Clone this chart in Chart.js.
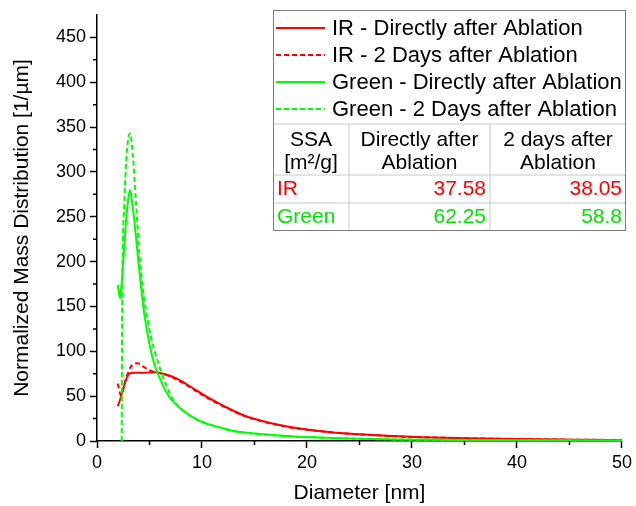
<!DOCTYPE html>
<html>
<head>
<meta charset="utf-8">
<script src="https://cdn.jsdelivr.net/npm/chart.js@4/dist/chart.umd.min.js"></script>
<style>
html, body { margin: 0; padding: 0; background: #fff; }
#wrap { width: 636px; height: 506px; }
</style>
</head>
<body>
<div id="wrap"><canvas id="chart" width="636" height="506"></canvas></div>
<script>

// IR, directly after ablation
const irDirectX = [1.97, 2.2, 2.45, 2.75, 3.08, 3.5, 4, 4.5, 5, 5.6, 6.3, 7, 7.5, 8.5, 9.4, 10.5, 11.3, 12.5, 14, 16, 18, 20, 22.5, 25, 28, 31, 35, 40, 45, 50];
const irDirectY = [39, 46, 57, 68, 75, 76, 76, 76, 76.5, 76.6, 75, 72.5, 70, 63.5, 57, 49, 44, 36.5, 28.5, 21.5, 16.5, 12.8, 9.6, 7.5, 5.6, 4.3, 3.2, 2.1, 1.5, 1.1];

// IR, 2 days after ablation
const ir2DaysX = [1.97, 2.29, 2.77, 3.24, 3.87, 4.4, 4.98, 5.6, 6.3, 7, 7.5, 8.5, 9.4, 10.5, 11.3, 12.5, 14, 16, 18, 20, 22.5, 25, 28, 31, 35, 40, 45, 50];
const ir2DaysY = [64, 51, 70, 83, 86.6, 83, 79, 76.5, 74.5, 72, 69, 62.5, 56, 48, 43, 36, 28, 21, 16, 12.5, 9.4, 7.4, 5.5, 4.2, 3.1, 2.1, 1.5, 1.1];

// Green, directly after ablation
const greenDirectX = [1.97, 2.2, 2.29, 2.51, 2.77, 3.0, 3.14, 3.3, 3.55, 3.87, 4.19, 4.5, 4.98, 5.4, 5.92, 6.4, 6.87, 7.5, 8.13, 9, 9.72, 10.5, 11.6, 12.87, 14, 16, 18, 20, 22.5, 25, 28, 32, 36, 40, 45, 50];
const greenDirectY = [174, 159, 168, 202, 246, 272, 280, 270, 246, 209, 172, 142, 109, 88, 71.7, 59, 49.4, 41, 34.6, 27.5, 22.8, 19, 15.5, 11.5, 9.4, 7.3, 5.5, 4.4, 3.3, 2.4, 1.8, 1.3, 1.0, 0.8, 0.7, 0.6];

// Green, 2 days after ablation
const green2DaysX = [2.35, 2.39, 2.45, 2.6, 2.77, 2.95, 3.14, 3.4, 3.72, 4.03, 4.34, 4.6, 5.0, 5.29, 5.7, 6.24, 6.7, 7.2, 8, 9, 10, 11.6, 12.87, 14, 16, 18, 20, 22.5, 25, 28, 32, 36, 40, 45, 50];
const green2DaysY = [0, 135, 209, 265, 310, 335, 343, 321, 265, 209, 172, 150, 124, 109, 92, 73, 59, 47, 36, 27, 21.5, 15.5, 11.5, 9.3, 7.2, 5.4, 4.3, 3.2, 2.4, 1.8, 1.3, 1.0, 0.8, 0.7, 0.6];

const seriesNames = ['IR - Directly after Ablation', 'IR - 2 Days after Ablation', 'Green - Directly after Ablation', 'Green - 2 Days after Ablation'];

// ticks
const xTicks = [0, 10, 20, 30, 40, 50];
const xMinorTicks = [5, 15, 25, 35, 45];
const yTicks = [0, 50, 100, 150, 200, 250, 300, 350, 400, 450];
const yMinorTicks = [25, 75, 125, 175, 225, 275, 325, 375, 425];

// SSA table
const tableHead = [['SSA', '[m²/g]'], ['Directly after', 'Ablation'], ['2 days after', 'Ablation']];
const tableRows = ['IR', 'Green'];
const ssaDirect = [37.58, 62.25];
const ssa2Days = [38.05, 58.8];

const RED = '#ff0000';
const GREEN = '#00ff00';
const FONT = '"Liberation Sans", Arial, sans-serif';

function toPoints(xs, ys) {
    let pts = [];
    for (let i = 0; i < xs.length; i++) {
        pts.push({x: xs[i], y: ys[i]});
    }
    return pts;
}

const minorTicks = {
    id: 'minorTicks',
    afterDraw(chart) {
        const ctx = chart.ctx;
        const area = chart.chartArea;
        const xs = chart.scales.x;
        const ys = chart.scales.y;
        ctx.save();
        ctx.strokeStyle = '#000';
        ctx.lineWidth = 1.5;
        ctx.beginPath();
        xMinorTicks.forEach(function(v) {
            const px = xs.getPixelForValue(v);
            ctx.moveTo(px, area.bottom);
            ctx.lineTo(px, area.bottom + 4);
        });
        yMinorTicks.forEach(function(v) {
            const py = ys.getPixelForValue(v);
            ctx.moveTo(area.left, py);
            ctx.lineTo(area.left - 4, py);
        });
        ctx.stroke();
        ctx.restore();
    }
};

// legend + SSA table in the top right corner
const legendBox = {
    id: 'legendBox',
    afterDraw(chart) {
        const ctx = chart.ctx;
        const left = 273, top = 10, right = 626, bottom = 231;
        ctx.save();
        ctx.fillStyle = '#fff';
        ctx.fillRect(left, top, right - left, bottom - top);

        // legend rows
        ctx.font = '22px ' + FONT;
        ctx.textBaseline = 'middle';
        for (let i = 0; i < seriesNames.length; i++) {
            const ds = chart.data.datasets.find(d => d.label === seriesNames[i]);
            const y = 28 + i * 27;
            ctx.strokeStyle = ds.borderColor;
            ctx.lineWidth = 2;
            ctx.setLineDash(ds.borderDash || []);
            ctx.beginPath();
            ctx.moveTo(276, y);
            ctx.lineTo(325, y);
            ctx.stroke();
            ctx.setLineDash([]);
            ctx.fillStyle = '#000';
            ctx.textAlign = 'left';
            ctx.fillText(seriesNames[i], 332, y + 1);
        }

        // table grid
        const col1 = 349, col2 = 490;
        const rowTop = 124, headBottom = 175, row1Bottom = 203;
        ctx.strokeStyle = '#c8c8c8';
        ctx.lineWidth = 1;
        ctx.beginPath();
        ctx.moveTo(left, rowTop); ctx.lineTo(right, rowTop);
        ctx.moveTo(left, headBottom); ctx.lineTo(right, headBottom);
        ctx.moveTo(left, row1Bottom); ctx.lineTo(right, row1Bottom);
        ctx.moveTo(col1, rowTop); ctx.lineTo(col1, bottom);
        ctx.moveTo(col2, rowTop); ctx.lineTo(col2, bottom);
        ctx.stroke();

        // table text
        ctx.font = '21px ' + FONT;
        ctx.fillStyle = '#000';
        ctx.textAlign = 'center';
        const centers = [(left + col1) / 2, (col1 + col2) / 2, (col2 + right) / 2];
        for (let c = 0; c < tableHead.length; c++) {
            ctx.fillText(tableHead[c][0], centers[c], 140);
            ctx.fillText(tableHead[c][1], centers[c], 163);
        }
        const rowColors = [RED, '#00e600'];
        for (let r = 0; r < tableRows.length; r++) {
            const y = 189 + r * 28;
            ctx.fillStyle = rowColors[r];
            ctx.textAlign = 'left';
            ctx.fillText(tableRows[r], 277, y);
            ctx.textAlign = 'right';
            ctx.fillText(String(ssaDirect[r]), col2 - 4, y);
            ctx.fillText(String(ssa2Days[r]), right - 4, y);
        }

        // outer frame
        ctx.strokeStyle = '#7a7a7a';
        ctx.lineWidth = 1;
        ctx.strokeRect(left + 0.5, top + 0.5, right - left - 1, bottom - top - 1);
        ctx.restore();
    }
};

const ctx = document.getElementById('chart').getContext('2d');
const chart = new Chart(ctx, {
    type: 'line',
    data: {
        datasets: [{
            label: seriesNames[3],
            data: toPoints(green2DaysX, green2DaysY),
            borderColor: GREEN,
            borderDash: [5, 3],
            order: 0
        }, {
            label: seriesNames[2],
            data: toPoints(greenDirectX, greenDirectY),
            borderColor: GREEN,
            order: 1
        }, {
            label: seriesNames[1],
            data: toPoints(ir2DaysX, ir2DaysY),
            borderColor: RED,
            borderDash: [5, 3],
            order: 2
        }, {
            label: seriesNames[0],
            data: toPoints(irDirectX, irDirectY),
            borderColor: RED,
            order: 3
        }]
    },
    options: {
        responsive: false,
        animation: false,
        devicePixelRatio: 1,
        layout: {
            padding: {left: 0, right: 11, top: 15, bottom: 0}
        },
        elements: {
            point: { radius: 0 },
            line: { borderWidth: 2, fill: false, cubicInterpolationMode: 'monotone' }
        },
        plugins: {
            legend: { display: false },
            tooltip: { enabled: false }
        },
        scales: {
            x: {
                type: 'linear',
                min: 0,
                max: 50,
                afterBuildTicks: function(scale) {
                    scale.ticks = xTicks.map(v => ({value: v}));
                },
                afterFit: function(scale) {
                    scale.height = 65;
                },
                grid: {
                    drawOnChartArea: false,
                    drawTicks: true,
                    tickLength: 7,
                    tickColor: '#000',
                    tickWidth: 1.5
                },
                border: { display: true, color: '#000', width: 1.5 },
                ticks: {
                    color: '#000',
                    padding: 4,
                    maxRotation: 0,
                    font: { family: FONT, size: 18 }
                },
                title: {
                    display: true,
                    text: 'Diameter [nm]',
                    color: '#000',
                    padding: {top: 0, bottom: 0},
                    font: { family: FONT, size: 21 }
                }
            },
            y: {
                type: 'linear',
                min: 0,
                max: 475,
                afterBuildTicks: function(scale) {
                    scale.ticks = yTicks.map(v => ({value: v}));
                },
                afterFit: function(scale) {
                    scale.width = 97;
                },
                grid: {
                    drawOnChartArea: false,
                    drawTicks: true,
                    tickLength: 7,
                    tickColor: '#000',
                    tickWidth: 1.5
                },
                border: { display: true, color: '#000', width: 1.5 },
                ticks: {
                    color: '#000',
                    padding: 4,
                    font: { family: FONT, size: 18 }
                },
                title: {
                    display: true,
                    text: 'Normalized Mass Distribution [1/µm]',
                    color: '#000',
                    padding: {top: 10, bottom: 0},
                    font: { family: FONT, size: 21 }
                }
            }
        }
    },
    plugins: [minorTicks, legendBox]
});
</script>
</body>
</html>
